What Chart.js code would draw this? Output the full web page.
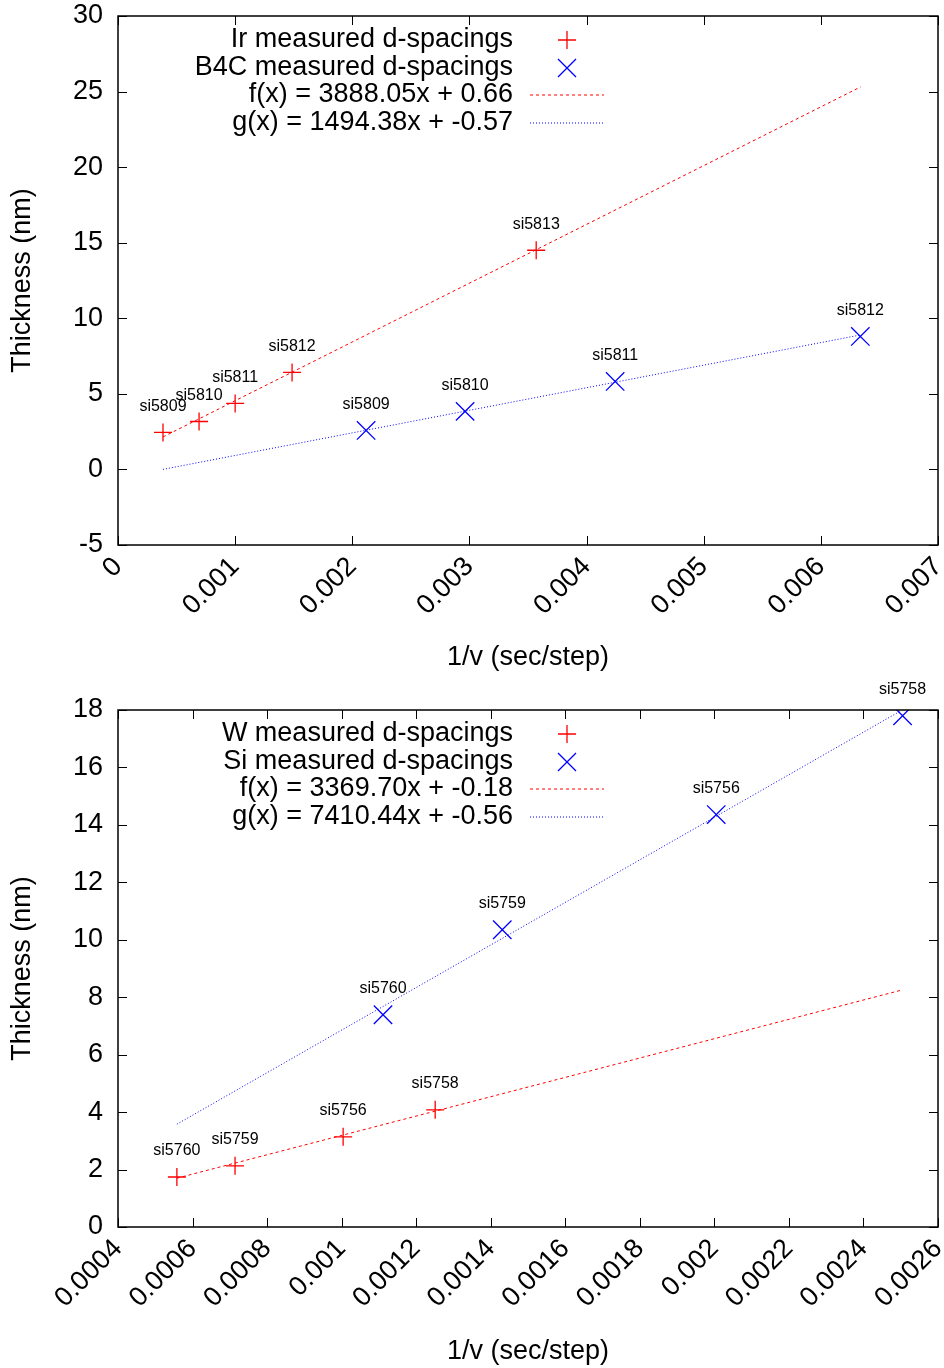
<!DOCTYPE html>
<html><head><meta charset="utf-8">
<script src="https://cdn.jsdelivr.net/npm/chart.js@4.4.1/dist/chart.umd.min.js"></script>
<style>
html,body{margin:0;padding:0;background:#fff;}
canvas{display:block;}
</style></head><body>
<canvas id="c1" width="944" height="676"></canvas>
<canvas id="c2" width="944" height="692"></canvas>
<script>
// ---------- data: top chart (Ir / B4C) ----------
const topIrX = [0.000384, 0.000692, 0.001, 0.001486, 0.00357];
const topIrY = [2.45, 3.17, 4.37, 6.42, 14.5];
const topIrNames = ['si5809', 'si5810', 'si5811', 'si5812', 'si5813'];
const topB4CX = [0.002118, 0.002963, 0.004244, 0.006337];
const topB4CY = [2.58, 3.84, 5.82, 8.8];
const topB4CNames = ['si5809', 'si5810', 'si5811', 'si5812'];
const topFitX = [0.000384, 0.00634];
const topFitFY = [2.15, 25.31];
const topFitGY = [0.004, 8.90];
const topXTicks = [0, 0.001, 0.002, 0.003, 0.004, 0.005, 0.006, 0.007];
const topYTicks = [-5, 0, 5, 10, 15, 20, 25, 30];
const topLegend = ['Ir measured d-spacings', 'B4C measured d-spacings', 'f(x) = 3888.05x + 0.66', 'g(x) = 1494.38x + -0.57'];

// ---------- data: bottom chart (W / Si) ----------
const botWX = [0.000558, 0.000714, 0.001004, 0.001251];
const botWY = [1.74, 2.13, 3.14, 4.08];
const botWNames = ['si5760', 'si5759', 'si5756', 'si5758'];
const botSiX = [0.001111, 0.001431, 0.002005, 0.002505];
const botSiY = [7.39, 10.35, 14.36, 17.8];
const botSiNames = ['si5760', 'si5759', 'si5756', 'si5758'];
const botFitX = [0.000558, 0.0025];
const botFitFY = [1.70, 8.24];
const botFitGY = [3.58, 17.97];
const botXTicks = [0.0004, 0.0006, 0.0008, 0.001, 0.0012, 0.0014, 0.0016, 0.0018, 0.002, 0.0022, 0.0024, 0.0026];
const botYTicks = [0, 2, 4, 6, 8, 10, 12, 14, 16, 18];
const botLegend = ['W measured d-spacings', 'Si measured d-spacings', 'f(x) = 3369.70x + -0.18', 'g(x) = 7410.44x + -0.56'];

const xTitle = '1/v (sec/step)';
const yTitle = 'Thickness (nm)';

const FAMILY = '"Liberation Sans", Arial, Helvetica, sans-serif';
const RED = '#ff0000', BLUE = '#0000ff';

function pts(xs, ys) { return xs.map((x, i) => ({x: x, y: ys[i]})); }

const frame = {
  id: 'frame',
  afterDraw(chart) {
    const ctx = chart.ctx, a = chart.chartArea;
    const xs = chart.scales.x, ys = chart.scales.y;
    ctx.save();
    ctx.strokeStyle = '#000';
    ctx.lineWidth = 1.5;
    ctx.strokeRect(a.left, a.top, a.right - a.left, a.bottom - a.top);
    ctx.lineWidth = 1;
    const L = 9;
    ctx.beginPath();
    xs.ticks.forEach(t => {
      const p = Math.round(xs.getPixelForValue(t.value)) + 0.5;
      ctx.moveTo(p, a.bottom); ctx.lineTo(p, a.bottom - L);
      ctx.moveTo(p, a.top); ctx.lineTo(p, a.top + L);
    });
    ys.ticks.forEach(t => {
      const p = Math.round(ys.getPixelForValue(t.value)) + 0.5;
      ctx.moveTo(a.left, p); ctx.lineTo(a.left + L, p);
      ctx.moveTo(a.right, p); ctx.lineTo(a.right - L, p);
    });
    ctx.stroke();
    ctx.restore();
  }
};

const pointNames = {
  id: 'pointNames',
  afterDatasetsDraw(chart) {
    const ctx = chart.ctx;
    ctx.save();
    ctx.font = '16px ' + FAMILY;
    ctx.fillStyle = '#000';
    ctx.textAlign = 'center';
    ctx.textBaseline = 'middle';
    chart.data.datasets.forEach((ds, i) => {
      if (!ds.names) return;
      const meta = chart.getDatasetMeta(i);
      meta.data.forEach((el, j) => {
        ctx.fillText(ds.names[j], el.x, el.y - 26);
      });
    });
    ctx.restore();
  }
};

const keyBox = {
  id: 'keyBox',
  afterDraw(chart) {
    const ctx = chart.ctx, a = chart.chartArea;
    ctx.save();
    ctx.font = '27px ' + FAMILY;
    ctx.textAlign = 'right';
    ctx.textBaseline = 'middle';
    chart.data.datasets.forEach((ds, i) => {
      const y = Math.round(a.top + 24 + i * 27.6);
      ctx.fillStyle = '#000';
      ctx.fillText(ds.label, 513, y);
      ctx.strokeStyle = ds.borderColor;
      ctx.beginPath();
      if (ds.showLine) {
        ctx.lineWidth = 1.2;
        ctx.setLineDash(ds.borderDash || []);
        ctx.moveTo(530, y); ctx.lineTo(604, y);
      } else if (ds.pointStyle === 'cross') {
        ctx.lineWidth = 1.3;
        ctx.moveTo(567 - 9, y); ctx.lineTo(567 + 9, y);
        ctx.moveTo(567, y - 9); ctx.lineTo(567, y + 9);
      } else {
        ctx.lineWidth = 1.3;
        ctx.moveTo(567 - 9, y - 9); ctx.lineTo(567 + 9, y + 9);
        ctx.moveTo(567 + 9, y - 9); ctx.lineTo(567 - 9, y + 9);
      }
      ctx.stroke();
      ctx.setLineDash([]);
    });
    ctx.restore();
  }
};

function makeChart(id, cfg) {
  const tickFont = {family: FAMILY, size: 27};
  return new Chart(document.getElementById(id), {
    type: 'scatter',
    data: {
      datasets: [
        {label: cfg.legend[0], data: pts(cfg.aX, cfg.aY), names: cfg.aN, pointStyle: 'cross', pointRadius: 9, pointHoverRadius: 9,
         borderColor: RED, backgroundColor: RED, pointBorderColor: RED, pointBackgroundColor: RED, pointBorderWidth: 1.3, borderWidth: 1, showLine: false},
        {label: cfg.legend[1], data: pts(cfg.bX, cfg.bY), names: cfg.bN, pointStyle: 'crossRot', pointRadius: 13, pointHoverRadius: 13,
         borderColor: BLUE, backgroundColor: BLUE, pointBorderColor: BLUE, pointBackgroundColor: BLUE, pointBorderWidth: 1.3, borderWidth: 1, showLine: false},
        {label: cfg.legend[2], data: pts(cfg.fX, cfg.fF), showLine: true, pointRadius: 0, borderColor: RED, borderWidth: 1, borderDash: [3, 3]},
        {label: cfg.legend[3], data: pts(cfg.fX, cfg.fG), showLine: true, pointRadius: 0, borderColor: BLUE, borderWidth: 1, borderDash: [1, 2]}
      ]
    },
    options: {
      responsive: false, animation: false, devicePixelRatio: 1,
      layout: {autoPadding: false, padding: {left: 0, right: 6, top: cfg.top, bottom: 0}},
      plugins: {legend: {display: false}, tooltip: {enabled: false}},
      events: [],
      scales: {
        x: {
          type: 'linear', min: cfg.xT[0], max: cfg.xT[cfg.xT.length - 1],
          afterBuildTicks: s => { s.ticks = cfg.xT.map(v => ({value: v})); },
          afterFit: s => { s.height = cfg.xH; s.paddingLeft = 0; s.paddingRight = 0; },
          grid: {display: false, drawTicks: false}, border: {display: false},
          ticks: {minRotation: 45, maxRotation: 45, autoSkip: false, font: tickFont, color: '#000', padding: 6,
                  callback: v => String(v)},
          title: {display: true, text: xTitle, font: tickFont, color: '#000', padding: {top: 0, bottom: cfg.titlePad}}
        },
        y: {
          type: 'linear', min: cfg.yT[0], max: cfg.yT[cfg.yT.length - 1],
          afterBuildTicks: s => { s.ticks = cfg.yT.map(v => ({value: v})); },
          afterFit: s => { s.width = 118; s.paddingTop = 0; s.paddingBottom = 0; },
          grid: {display: false, drawTicks: false}, border: {display: false},
          ticks: {font: tickFont, color: '#000', padding: 15, callback: v => String(v)},
          title: {display: true, text: yTitle, font: tickFont, color: '#000', padding: {top: 6, bottom: 0}}
        }
      }
    },
    plugins: [frame, pointNames, keyBox]
  });
}

makeChart('c1', {aX: topIrX, aY: topIrY, aN: topIrNames, bX: topB4CX, bY: topB4CY, bN: topB4CNames,
  fX: topFitX, fF: topFitFY, fG: topFitGY, xT: topXTicks, yT: topYTicks, legend: topLegend, top: 16, xH: 131, titlePad: 2});
makeChart('c2', {aX: botWX, aY: botWY, aN: botWNames, bX: botSiX, bY: botSiY, bN: botSiNames,
  fX: botFitX, fF: botFitFY, fG: botFitGY, xT: botXTicks, yT: botYTicks, legend: botLegend, top: 34, xH: 141, titlePad: 0});
</script>
</body></html>
